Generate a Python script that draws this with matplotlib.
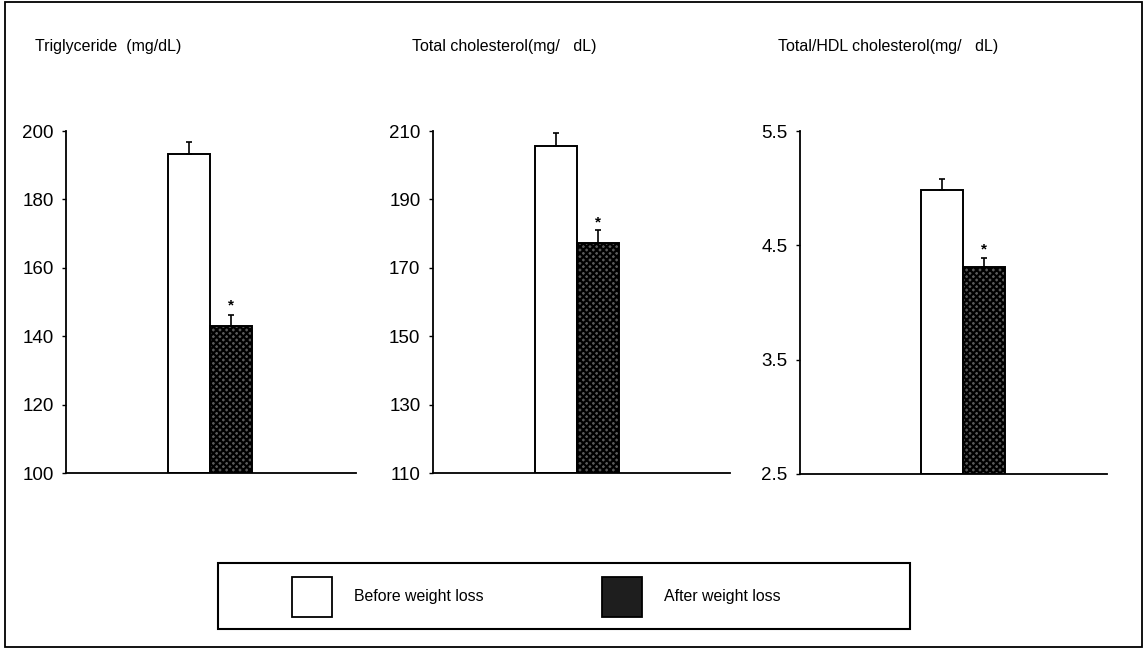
import matplotlib
matplotlib.use("Agg")
import matplotlib.pyplot as plt
from matplotlib.patches import Patch, Rectangle

plt.rcParams['font.family'] = ['Liberation Sans', 'DejaVu Sans']
plt.rcParams['hatch.linewidth'] = 1.6

# --- data ---
titles = ["Triglyceride  (mg/dL)", "Total cholesterol(mg/   dL)", "Total/HDL cholesterol(mg/   dL)"]
before = [193.3, 205.5, 4.98]
before_err = [3.5, 4.0, 0.10]
after = [143.0, 177.3, 4.31]
after_err = [3.2, 3.8, 0.08]
ylims = [(100, 200), (110, 210), (2.5, 5.5)]
yticks = [[100, 120, 140, 160, 180, 200],
          [110, 130, 150, 170, 190, 210],
          [2.5, 3.5, 4.5, 5.5]]
ytick_labels = [["100", "120", "140", "160", "180", "200"],
                ["110", "130", "150", "170", "190", "210"],
                ["2.5", "3.5", "4.5", "5.5"]]
star_offset = [2.8, 2.3, 0.07]

# --- layout (pixels of a 1146x649 canvas) ---
W, H = 1146, 649
axes_px = [(66, 356, 131, 473), (433, 730, 131, 473), (800, 1107, 131, 474)]
bar_left = [0.352, 0.343, 0.394]   # left edge of the white bar, axes fraction
bar_w = [0.145, 0.141, 0.137]

fig = plt.figure(figsize=(W / 100, H / 100), dpi=100)

for i in range(3):
    x0, x1, yt, yb = axes_px[i]
    ax = fig.add_axes([x0 / W, 1 - yb / H, (x1 - x0) / W, (yb - yt) / H])
    w = bar_w[i]
    cw = bar_left[i] + w / 2
    cd = bar_left[i] + 1.5 * w
    lo = ylims[i][0]
    ax.bar(cw, before[i] - lo, bottom=lo, width=w, color='white',
           edgecolor='black', linewidth=1.4,
           yerr=[[0], [before_err[i]]], capsize=2.5,
           error_kw=dict(ecolor='black', elinewidth=1.2, capthick=1.2))
    ax.bar(cd, after[i] - lo, bottom=lo, width=w, color='#5a5a5a',
           edgecolor='black', linewidth=1.4, hatch='xxxxx',
           yerr=[[0], [after_err[i]]], capsize=2.5,
           error_kw=dict(ecolor='black', elinewidth=1.2, capthick=1.2))
    ax.text(cd, after[i] + after_err[i] + star_offset[i], "*",
            ha='center', va='center', fontsize=11, fontweight='bold')
    ax.set_xlim(0, 1)
    ax.set_ylim(*ylims[i])
    ax.set_yticks(yticks[i])
    ax.set_yticklabels(ytick_labels[i], fontsize=13.5)
    ax.set_xticks([])
    ax.tick_params(axis='y', length=3, width=1, pad=6)
    for s in ('top', 'right'):
        ax.spines[s].set_visible(False)
    for s in ('left', 'bottom'):
        ax.spines[s].set_linewidth(1.3)

# panel titles
title_x = [35, 412, 778]
for t, tx in zip(titles, title_x):
    fig.text(tx / W, 1 - 47 / H, t, fontsize=11.5, ha='left', va='center')

# legend
handles = [Patch(facecolor='white', edgecolor='black', linewidth=1.3),
           Patch(facecolor='#1e1e1e', edgecolor='black', linewidth=1.3)]
fig.legend(handles, ["Before weight loss", "After weight loss"],
           loc='center left', bbox_to_anchor=(292 / W, 1 - 597 / H),
           ncol=2, frameon=False, fontsize=11.4,
           handlelength=2.5, handleheight=3.5, handletextpad=1.4,
           columnspacing=7.5, borderpad=0, borderaxespad=0)
fig.add_artist(Rectangle((218 / W, 1 - 629 / H), 692 / W, 66 / H,
                         transform=fig.transFigure, fill=False,
                         edgecolor='black', linewidth=1.5))

# outer frame
fig.add_artist(Rectangle((5 / W, 2 / H), 1137 / W, 645 / H,
                         transform=fig.transFigure, fill=False,
                         edgecolor='black', linewidth=1.3))

fig.savefig("out.png", dpi=100)
